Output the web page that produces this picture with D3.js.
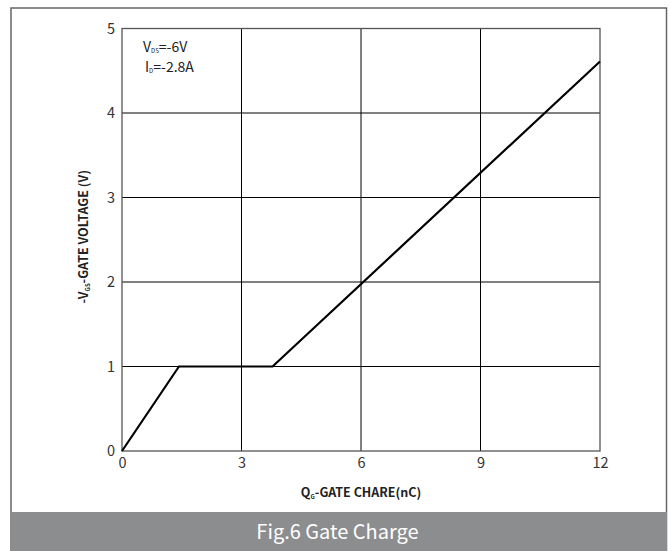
<!DOCTYPE html>
<html>
<head>
<meta charset="utf-8">
<script src="https://cdn.jsdelivr.net/npm/d3@7"></script>
<style>
  html, body { margin: 0; padding: 0; background: #fff; }
  svg { display: block; }
</style>
</head>
<body>
<svg id="chart" width="671" height="551"></svg>
<script>
// Gate charge curve: -VGS versus QG
const chargeNC = [0, 1.43, 3.78, 12];
const gateVoltage = [0, 1, 1, 4.61];
const xTicks = [0, 3, 6, 9, 12];
const yTicks = [0, 1, 2, 3, 4, 5];
const conditions = [
  { main: "V", sub: "DS", rest: "=-6V" },
  { main: "I", sub: "D", rest: "=-2.8A" }
];
const captionText = "Fig.6 Gate Charge";

const svg = d3.select("#chart");
const W = 671, H = 551;
const plot = { left: 122, right: 600, top: 28.5, bottom: 451 };
const font = "'Noto Sans CJK SC', 'Noto Sans', sans-serif";
const narrow = "'Liberation Sans Narrow', 'Arial Narrow', 'Noto Sans CJK SC', sans-serif";

const x = d3.scaleLinear().domain([0, 12]).range([plot.left, plot.right]);
const y = d3.scaleLinear().domain([0, 5]).range([plot.bottom, plot.top]);

// outer frame
svg.append("rect")
  .attr("x", 11).attr("y", 8).attr("width", 655.5).attr("height", 560)
  .attr("fill", "#fff").attr("stroke", "#666").attr("stroke-width", 1.5);

// grid lines
const grid = svg.append("g");
grid.selectAll(".gx").data(xTicks.slice(1, -1)).join("line")
  .attr("x1", d => x(d)).attr("x2", d => x(d))
  .attr("y1", plot.top).attr("y2", plot.bottom)
  .attr("stroke", "#000").attr("stroke-width", 1);
grid.selectAll(".gy").data(yTicks.slice(1, -1)).join("line")
  .attr("x1", plot.left).attr("x2", plot.right)
  .attr("y1", d => y(d)).attr("y2", d => y(d))
  .attr("stroke", "#000").attr("stroke-width", 1);

// plot border
svg.append("rect")
  .attr("x", plot.left).attr("y", plot.top)
  .attr("width", plot.right - plot.left).attr("height", plot.bottom - plot.top)
  .attr("fill", "none").attr("stroke", "#555").attr("stroke-width", 1.3);

// axes (labels only; grid provides the tick lines)
const xAxis = d3.axisBottom(x).tickValues(xTicks).tickSize(0).tickPadding(7).tickFormat(d3.format("d"));
const yAxis = d3.axisLeft(y).tickValues(yTicks).tickSize(0).tickPadding(7).tickFormat(d3.format("d"));

const gx = svg.append("g").attr("transform", `translate(0,${plot.bottom})`).call(xAxis);
const gy = svg.append("g").attr("transform", `translate(${plot.left},0)`).call(yAxis);
[gx, gy].forEach(g => {
  g.select(".domain").remove();
  g.selectAll("text").attr("font-family", font).attr("font-size", 14.5).attr("fill", "#333");
});

// curve
const line = d3.line().x((d, i) => x(chargeNC[i])).y(d => y(d));
svg.append("path")
  .datum(gateVoltage)
  .attr("d", line)
  .attr("fill", "none").attr("stroke", "#000").attr("stroke-width", 2.2)
  .attr("stroke-linejoin", "miter");

// test conditions
const cond = svg.append("g").attr("font-family", narrow).attr("fill", "#222");
conditions.forEach((c, i) => {
  const t = cond.append("text")
    .attr("x", i === 0 ? 143 : 145)
    .attr("y", 52 + i * 20)
    .attr("font-size", 14);
  t.append("tspan").text(c.main);
  t.append("tspan").attr("font-size", 6).attr("dy", 1).text(c.sub);
  t.append("tspan").attr("dy", -1).text(c.rest);
});

// x axis title
const xt = svg.append("text")
  .attr("x", x(6)).attr("y", 497)
  .attr("text-anchor", "middle")
  .attr("font-family", font).attr("font-size", 12.5).attr("font-weight", "bold").attr("fill", "#222");
xt.append("tspan").text("Q");
xt.append("tspan").attr("font-size", 6).attr("dy", 2).text("G");
xt.append("tspan").attr("dy", -2).text("-GATE CHARE(nC)");

// y axis title
const yt = svg.append("text")
  .attr("transform", `translate(88,${(plot.top + plot.bottom) / 2 - 3}) rotate(-90)`)
  .attr("text-anchor", "middle")
  .attr("font-family", font).attr("font-size", 12.5).attr("font-weight", "bold").attr("fill", "#222");
yt.append("tspan").text("-V");
yt.append("tspan").attr("font-size", 6).attr("dy", 2).text("GS");
yt.append("tspan").attr("dy", -2).text("-GATE VOLTAGE (V)");

// caption bar
svg.append("rect")
  .attr("x", 10).attr("y", 512).attr("width", 657).attr("height", 39)
  .attr("fill", "#8c8d8f");
svg.append("text")
  .attr("x", W / 2 + 2).attr("y", 539)
  .attr("text-anchor", "middle")
  .attr("font-family", font).attr("font-size", 20).attr("fill", "#fff")
  .text(captionText);
</script>
</body>
</html>
